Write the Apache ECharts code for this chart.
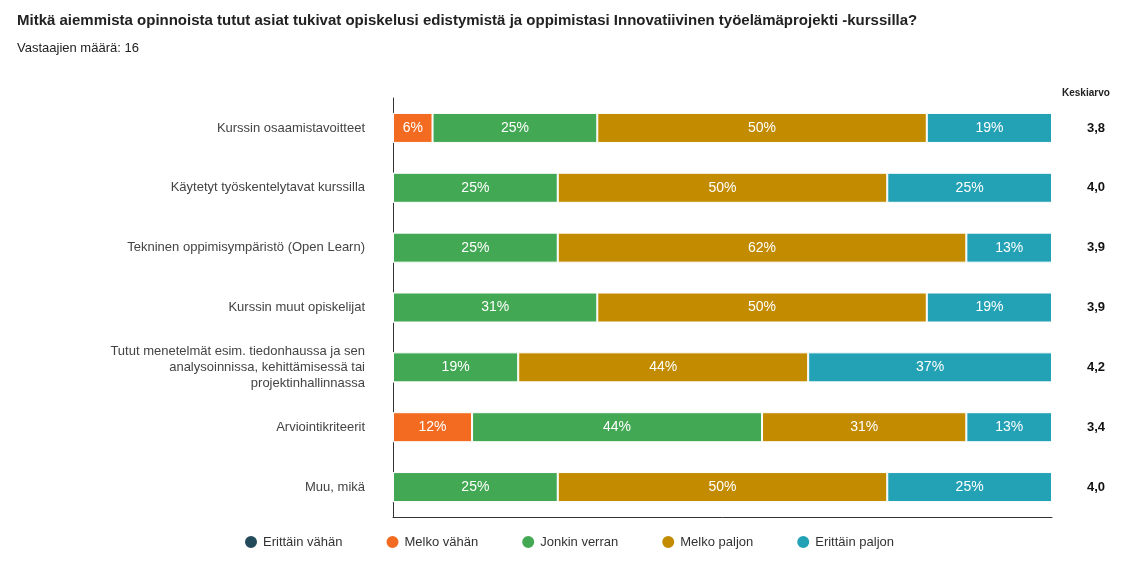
<!DOCTYPE html>
<html><head><meta charset="utf-8">
<script src="https://cdn.jsdelivr.net/npm/echarts@6/dist/echarts.min.js"></script>
<style>html,body{margin:0;background:#fff}#c{width:1137px;height:577px}</style>
</head><body><div id="c"></div>
<script>
const categories = [
  'Kurssin osaamistavoitteet',
  'Käytetyt työskentelytavat kurssilla',
  'Tekninen oppimisympäristö (Open Learn)',
  'Kurssin muut opiskelijat',
  'Tutut menetelmät esim. tiedonhaussa ja sen\nanalysoinnissa, kehittämisessä tai\nprojektinhallinnassa',
  'Arviointikriteerit',
  'Muu, mikä'
];
const seriesNames = ['Erittäin vähän', 'Melko vähän', 'Jonkin verran', 'Melko paljon', 'Erittäin paljon'];
const colors = ['#234a5a', '#f26b21', '#43a853', '#c28b00', '#23a1b5'];
const erittainVahan = [0, 0, 0, 0, 0, 0, 0];
const melkoVahan = [6, 0, 0, 0, 0, 12, 0];
const jonkinVerran = [25, 25, 25, 31, 19, 44, 25];
const melkoPaljon = [50, 50, 62, 50, 44, 31, 50];
const erittainPaljon = [19, 25, 13, 19, 37, 13, 25];
const means = ['3,8', '4,0', '3,9', '3,9', '4,2', '3,4', '4,0'];

const values = [erittainVahan, melkoVahan, jonkinVerran, melkoPaljon, erittainPaljon];
const chart = echarts.init(document.getElementById('c'));
chart.setOption({
  animation: false,
  title: {
    text: 'Mitkä aiemmista opinnoista tutut asiat tukivat opiskelusi edistymistä ja oppimistasi Innovatiivinen työelämäprojekti -kurssilla?',
    subtext: 'Vastaajien määrä: 16',
    left: 12, top: 8,
    textStyle: { fontSize: 15, fontWeight: 'bold', color: '#222', fontFamily: 'Liberation Sans' },
    subtextStyle: { fontSize: 13, color: '#222', fontFamily: 'Liberation Sans' },
    itemGap: 14
  },
  legend: {
    bottom: 22, left: 'center', icon: 'circle', itemWidth: 14, itemHeight: 14, itemGap: 42,
    textStyle: { fontSize: 13, color: '#333', fontFamily: 'Liberation Sans' },
    data: seriesNames
  },
  grid: { left: 393, right: 85, top: 98, bottom: 60 },
  xAxis: { type: 'value', min: 0, max: 100, show: true, axisLine: { show: true, lineStyle: { color: '#333' } },
    axisLabel: { show: false }, axisTick: { show: false }, splitLine: { show: false } },
  yAxis: [{
    type: 'category', inverse: true, data: categories,
    axisLine: { show: true, lineStyle: { color: '#333' } }, axisTick: { show: false },
    axisLabel: { fontSize: 13, color: '#444', margin: 28, lineHeight: 16, fontFamily: 'Liberation Sans' }
  }, {
    type: 'category', inverse: true, data: means, position: 'right',
    name: 'Keskiarvo', nameLocation: 'start', nameGap: 0,
    nameTextStyle: { fontSize: 10, fontWeight: 'bold', color: '#222', align: 'left', padding: [0, 0, 0, 10], verticalAlign: 'bottom' },
    axisLine: { show: false }, axisTick: { show: false },
    axisLabel: { fontSize: 13, fontWeight: 'bold', color: '#111', margin: 35, fontFamily: 'Liberation Sans' }
  }],
  series: seriesNames.map((n, i) => ({
    name: n, type: 'bar', stack: 'a', barWidth: 30,
    itemStyle: { color: colors[i], borderColor: '#fff', borderWidth: 1 },
    label: { show: true, color: '#fff', fontSize: 14, fontFamily: 'Liberation Sans',
      formatter: p => p.value > 0 ? p.value + '%' : '' },
    data: values[i]
  }))
});
</script></body></html>
